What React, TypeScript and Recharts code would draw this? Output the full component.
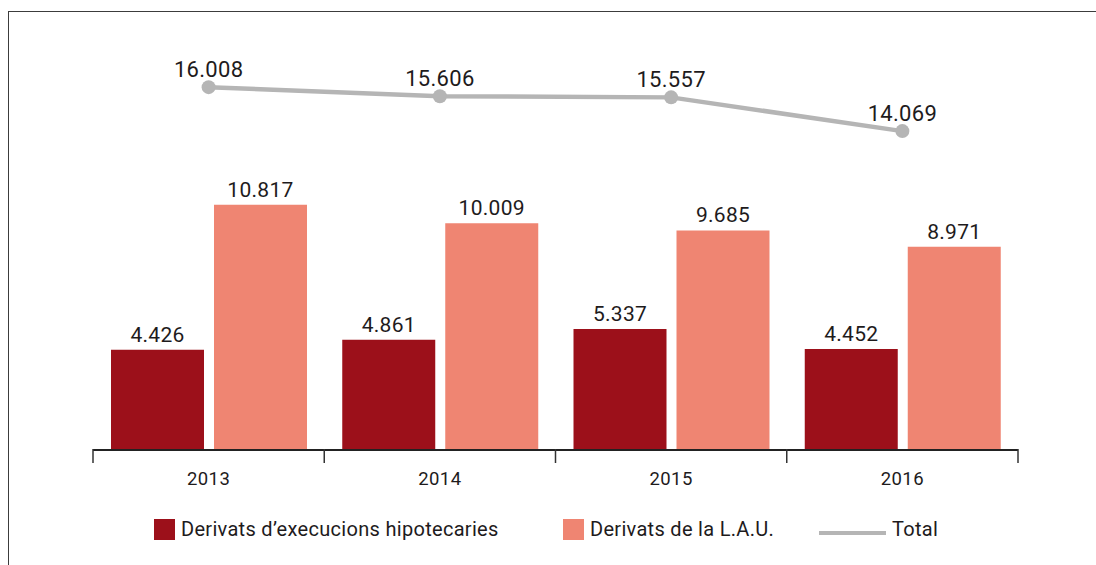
import { Bar, ComposedChart, LabelList, Legend, Line, XAxis, YAxis } from "recharts";

const years = ["2013", "2014", "2015", "2016"];
const hipotecaries = [4426, 4861, 5337, 4452];
const lau = [10817, 10009, 9685, 8971];
const total = [16008, 15606, 15557, 14069];

const data = years.map((year, i) => ({
  year,
  hipotecaries: hipotecaries[i],
  lau: lau[i],
  total: total[i],
}));

const DARK = "#9c101a";
const LIGHT = "#ef8572";
const GREY = "#b5b5b5";
const TEXT = "#1e1b1c";
const FONT = "Roboto, 'DejaVu Sans', sans-serif";

const fmt = (v: any) => {
  const s = String(Number(v));
  if (s.length <= 3) return s;
  return s.slice(0, s.length - 3) + "." + s.slice(s.length - 3);
};

const YearTick = (props: any) => {
  const { x, y, payload, index } = props;
  const half = payload?.offset ?? props.width / (2 * years.length);
  return (
    <g>
      <line x1={x - half} x2={x - half} y1={y - 1} y2={y + 13} stroke="#333" strokeWidth={1.5} />
      {index === years.length - 1 && (
        <line x1={x + half} x2={x + half} y1={y - 1} y2={y + 13} stroke="#333" strokeWidth={1.5} />
      )}
      <text x={x} y={y + 35} textAnchor="middle" fill={TEXT} fontSize={18.5} fontFamily={FONT} letterSpacing={0.4}>
        {payload.value}
      </text>
    </g>
  );
};

const itemStyle: any = { position: "absolute", top: 2, display: "flex", alignItems: "center" };

const LegendBox = () => (
  <div style={{ position: "relative", height: 30, fontFamily: FONT, fontSize: 20, color: TEXT, letterSpacing: 0.3 }}>
    <div style={{ ...itemStyle, left: 154 }}>
      <span style={{ width: 21, height: 21, background: DARK, marginRight: 6 }} />
      <span>Derivats d’execucions hipotecaries</span>
    </div>
    <div style={{ ...itemStyle, left: 563 }}>
      <span style={{ width: 21, height: 21, background: LIGHT, marginRight: 6 }} />
      <span>Derivats de la L.A.U.</span>
    </div>
    <div style={{ ...itemStyle, left: 819 }}>
      <span style={{ width: 67, height: 4, background: GREY, marginRight: 6, marginTop: 7 }} />
      <span>Total</span>
    </div>
  </div>
);

export default function App() {
  return (
    <div style={{ position: "absolute", left: 0, top: 0, width: 1096, height: 565, background: "#fff", overflow: "hidden" }}>
      <div
        style={{
          position: "absolute",
          left: 8,
          top: 11,
          width: 1100,
          height: 600,
          borderTop: "1.5px solid #3c3c3c",
          borderLeft: "1.5px solid #3c3c3c",
        }}
      />
      <div style={{ position: "absolute", left: 0, top: 0 }}>
        <ComposedChart
          width={1096}
          height={565}
          data={data}
          margin={{ top: 42, right: 78, bottom: 75, left: 93 }}
          barSize={93}
          barGap={10}
        >
          <XAxis
            dataKey="year"
            axisLine={{ stroke: "#222", strokeWidth: 2 }}
            tickLine={false}
            tickSize={0}
            tickMargin={0}
            height={40}
            tick={<YearTick />}
            interval={0}
          />
          <YAxis hide domain={[0, 18000]} />
          <Legend
            verticalAlign="middle"
            align="center"
            layout="horizontal"
            wrapperStyle={{ top: 515, left: 0, width: 1096 }}
            content={<LegendBox />}
          />
          <Bar dataKey="hipotecaries" fill={DARK} isAnimationActive={false}>
            <LabelList
              dataKey="hipotecaries"
              position="top"
              offset={8}
              formatter={fmt}
              fill={TEXT}
              fontSize={21}
              fontFamily={FONT}
              letterSpacing={0.3}
            />
          </Bar>
          <Bar dataKey="lau" fill={LIGHT} isAnimationActive={false}>
            <LabelList
              dataKey="lau"
              position="top"
              offset={8}
              formatter={fmt}
              fill={TEXT}
              fontSize={21}
              fontFamily={FONT}
              letterSpacing={0.3}
            />
          </Bar>
          <Line
            dataKey="total"
            stroke={GREY}
            strokeWidth={4.5}
            dot={{ r: 7, fill: GREY, stroke: "none" }}
            activeDot={false}
            isAnimationActive={false}
          >
            <LabelList
              dataKey="total"
              position="top"
              offset={10}
              formatter={fmt}
              fill={TEXT}
              fontSize={22}
              fontFamily={FONT}
              letterSpacing={0.3}
            />
          </Line>
        </ComposedChart>
      </div>
    </div>
  );
}
